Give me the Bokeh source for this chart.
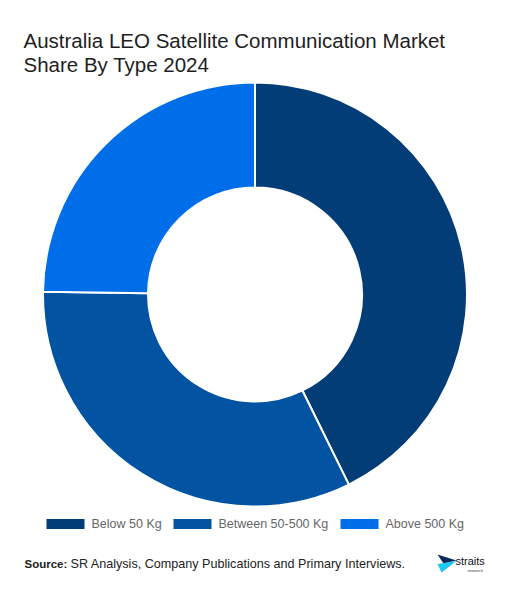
from math import pi
import numpy as np
from bokeh.plotting import figure
from bokeh.models import Range1d, Label, ColumnDataSource
from bokeh.core.properties import value
from bokeh.embed import file_html
from bokeh.resources import INLINE

''' DATOS DEL GRÁFICO '''
categories = ["Below 50 Kg", "Between 50-500 Kg", "Above 500 Kg"]
shares = [42.7, 32.5, 24.8]
colors = ["#023d78", "#0353a3", "#006ee9"]

titleLines = ["Australia LEO Satellite Communication Market", "Share By Type 2024"]
sourceLabel = "Source:"
sourceText = "SR Analysis, Company Publications and Primary Interviews."

W, H = 510, 593
FONT = "Liberation Sans"


def ty(v):
    # posición medida desde arriba -> coordenada del gráfico #
    return H - v


p = figure(width=W, height=H, x_range=Range1d(0, W), y_range=Range1d(0, H),
           output_backend="svg", toolbar_location=None, min_border=0)
p.axis.visible = False
p.grid.visible = False
p.outline_line_color = None
p.background_fill_color = "white"
p.border_fill_color = "white"

# Ángulos de cada porción (sentido horario desde arriba) #
fracs = np.array(shares) / sum(shares)
ends = np.cumsum(fracs)
starts = ends - fracs
src = ColumnDataSource(dict(
    cat=categories, color=colors,
    start=pi / 2 - 2 * pi * starts,
    end=pi / 2 - 2 * pi * ends,
))

p.annular_wedge(x=254.5, y=ty(294), inner_radius=107, outer_radius=212,
                start_angle="start", end_angle="end", direction="clock",
                fill_color="color", line_color="white", line_width=2, source=src)

# Leyenda #
legendSrc = ColumnDataSource(dict(
    cat=categories, color=colors,
    sx=[65, 192, 359], tx=[91, 218, 385], y=[ty(523.5)] * 3,
))
p.rect(x="sx", y="y", width=38, height=10, fill_color="color", line_color=None, source=legendSrc)
p.text(x="tx", y="y", text="cat", text_font=value(FONT), text_font_size="12.5px",
       text_color="#666666", text_baseline="middle", source=legendSrc)

# Título #
for i, line in enumerate(titleLines):
    p.add_layout(Label(x=23, y=ty(40 + 24 * i), text=line, text_font=FONT,
                       text_font_size="20.5px", text_color="#1e1e1e", text_baseline="alphabetic"))

# Fuente #
p.add_layout(Label(x=24, y=ty(563.5), text=sourceLabel, text_font=FONT, text_font_style="bold",
                   text_font_size="11.5px", text_color="#222222", text_baseline="middle"))
p.add_layout(Label(x=70, y=ty(563.5), text=sourceText, text_font=FONT,
                   text_font_size="12.6px", text_color="#222222", text_baseline="middle"))

# Logo #
p.patch(x=[437, 456, 443], y=[ty(554), ty(560), ty(563)], fill_color="#0a2a5c", line_color=None)
p.patch(x=[437, 456, 441], y=[ty(563.5), ty(560.5), ty(572)], fill_color="#1ec8f0", line_color=None)
p.add_layout(Label(x=455, y=ty(560), text="straits", text_font=FONT, text_font_size="11px",
                   text_color="#111111", text_baseline="middle"))
p.add_layout(Label(x=467, y=ty(570), text="research", text_font=FONT, text_font_size="4px",
                   text_color="#333333", text_baseline="middle"))

open("out.html", "w").write(file_html(p, INLINE))
